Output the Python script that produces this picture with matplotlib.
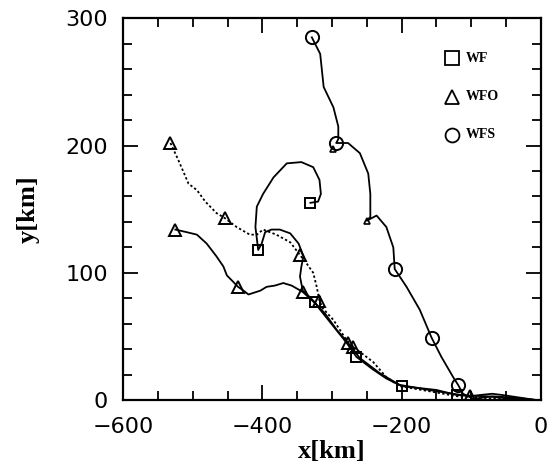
import numpy as np
import matplotlib
matplotlib.use('Agg')
import matplotlib.pyplot as plt
from matplotlib.ticker import MultipleLocator

# WF track (squares)
wf_x = [-331, -320, -316, -318, -327, -344, -365, -384, -399, -408, -410, -406,
        -401, -396, -387, -375, -360, -348, -341, -344, -346, -342, -332, -325,
        -317, -298, -279, -265, -241, -222, -200, -150, -121, -78, -40, -2]
wf_y = [155, 156, 162, 173, 183, 187, 186, 175, 162, 152, 136, 118,
        123, 132, 134, 134, 131, 123, 113, 105, 97, 86, 81, 77,
        71, 58, 45, 34, 24, 17, 11, 8, 4, 3, 1, 0]
wf_marks = [0, 11, 23, 27, 30, 32]

# WFO track, solid (triangles)
wfo_x = [-525, -509, -494, -480, -466, -456, -451, -442, -435, -427, -420, -403,
         -394, -382, -370, -358, -342, -334, -322, -310, -293, -277, -260, -231,
         -203, -150, -102, -88, -70, -55, -6]
wfo_y = [134, 132, 130, 123, 113, 105, 98, 93, 89, 86, 83, 86,
         89, 90, 92, 90, 85, 81, 75, 68, 55, 45, 33, 21,
         12, 7, 3, 4, 5, 4, 0]
wfo_marks = [0, 8, 16, 21, 26]

# WFO track, dotted (triangles)
wfod_x = [-532, -521, -506, -494, -482, -466, -454, -437, -418, -408, -399, -380,
          -360, -346, -336, -327, -322, -318, -313, -298, -279, -270, -241, -222,
          -203, -150, -120, -60, -5]
wfod_y = [202, 189, 170, 165, 156, 147, 143, 136, 130, 130, 134, 130,
          124, 114, 107, 100, 89, 78, 72, 63, 47, 42, 30, 18,
          11, 6, 3, 1, 0]
wfod_marks = [0, 6, 13, 17, 21]

# WFS track (circles)
wfs_x = [-329, -317, -312, -298, -291, -291, -294, -277, -260, -248, -245, -245,
         -250, -236, -222, -212, -210, -193, -174, -157, -143, -126, -119, -112,
         -97, -70, -40, -5]
wfs_y = [285, 272, 246, 230, 215, 205, 202, 202, 194, 178, 162, 144,
         141, 145, 136, 120, 103, 89, 71, 49, 34, 18, 12, 5,
         1, 3, 2, 0]
wfs_marks = [0, 6, 16, 19, 22]

# small triangles sitting on the WFS track
wfs_tri_x = [-298, -250]
wfs_tri_y = [197, 141]

fig = plt.figure(figsize=(5.52, 4.68), dpi=100)
ax = fig.add_axes([0.223, 0.145, 0.757, 0.816])

mk = dict(color='black', linewidth=1.3, markerfacecolor='none',
          markeredgecolor='black', markeredgewidth=1.4)
ax.plot(wf_x, wf_y, marker='s', markersize=7.5, markevery=wf_marks, **mk)
ax.plot(wfo_x, wfo_y, marker='^', markersize=8.5, markevery=wfo_marks, **mk)
ax.plot(wfod_x, wfod_y, linestyle=(0, (1.3, 1.3)), marker='^', markersize=8.5,
        markevery=wfod_marks, **mk)
ax.plot(wfs_x, wfs_y, marker='o', markersize=9.5, markevery=wfs_marks, **mk)
ax.plot(wfs_tri_x, wfs_tri_y, linestyle='none', marker='^', markersize=5,
        markerfacecolor='none', markeredgecolor='black', markeredgewidth=1.2)

# legend drawn by hand, no frame
leg_labels = ['WF', 'WFO', 'WFS']
leg_markers = ['s', '^', 'o']
for i, (lab, m) in enumerate(zip(leg_labels, leg_markers)):
    yy = 0.895 - i * 0.1
    ax.plot([0.787], [yy], marker=m, markersize=10, markerfacecolor='none',
            markeredgecolor='black', markeredgewidth=1.3,
            transform=ax.transAxes, clip_on=False)
    ax.text(0.82, yy, lab, transform=ax.transAxes, va='center', ha='left',
            fontsize=10, fontweight='bold', family='Liberation Serif')

ax.set_xlim(-600, 0)
ax.set_ylim(0, 300)
ax.xaxis.set_major_locator(MultipleLocator(200))
ax.xaxis.set_minor_locator(MultipleLocator(50))
ax.yaxis.set_major_locator(MultipleLocator(100))
ax.yaxis.set_minor_locator(MultipleLocator(20))
ax.tick_params(which='both', direction='in', top=True, right=True, width=1.3)
ax.tick_params(which='major', length=11, labelsize=16)
ax.tick_params(axis='x', which='major', pad=12)
ax.tick_params(axis='y', which='major', pad=11)
ax.tick_params(which='minor', length=6.5)
for lab in ax.get_xticklabels() + ax.get_yticklabels():
    lab.set_family('DejaVu Sans')
for s in ax.spines.values():
    s.set_linewidth(1.6)

ax.set_xlabel('x[km]', fontsize=19, fontweight='bold', family='Liberation Serif',
              labelpad=2)
ax.set_ylabel('y[km]', fontsize=19, fontweight='bold', family='Liberation Serif',
              labelpad=18)

fig.savefig('out.png', dpi=100)
